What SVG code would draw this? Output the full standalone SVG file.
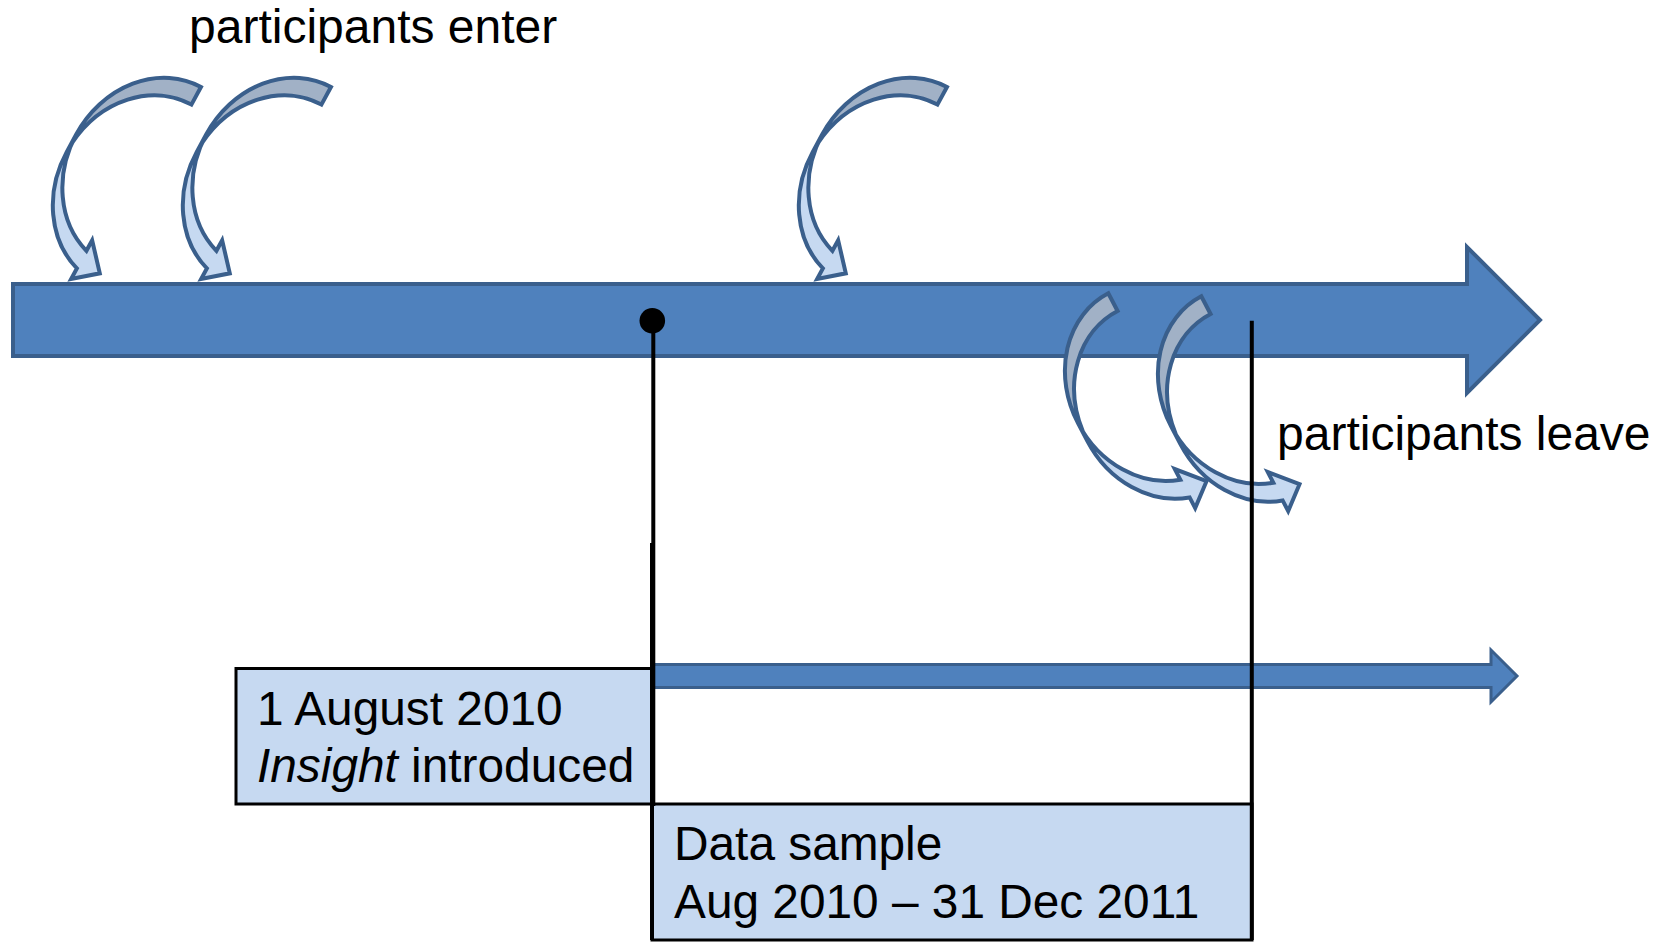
<svg xmlns="http://www.w3.org/2000/svg" width="1672" height="942" viewBox="0 0 1672 942">
<style>
.lbl{font-family:"Liberation Sans",Arial,sans-serif;font-size:48px;fill:#000}
.btx{font-family:"Liberation Sans",Arial,sans-serif;font-size:47.8px;fill:#000}
.box{fill:#C6D9F1;stroke:#000;stroke-width:3}
.bar{fill:#4F81BD;stroke:#3A5F8C;stroke-width:4;stroke-linejoin:miter}
.bar2{fill:#4F81BD;stroke:#3A5F8C;stroke-width:3;stroke-linejoin:miter}
.cl{fill:#C6D9F1;stroke:none}
.cd{fill:#A1B1C6;stroke:none}
.co{fill:none;stroke:#3A5F8C;stroke-width:4;stroke-linejoin:miter}
.ln{stroke:#000;stroke-width:4;fill:none}
</style>
<defs>
<g id="curved">
<path class="cl" d="M0,101 A87,101 0 0 0 64.5,198.6 L64.5,186.6 L87,212 L64.5,230.6 L64.5,218.6 A87,101 0 0 1 0,121 Z"/>
<path class="cd" d="M87,20 A87,101 0 0 0 0.43,111 A87,101 0 0 1 87,0 Z"/>
<path class="co" d="M0,101 A87,101 0 0 0 64.5,198.6 L64.5,186.6 L87,212 L64.5,230.6 L64.5,218.6 A87,101 0 0 1 0,121 L0,101 A87,101 0 0 1 87,0 L87,20 A87,101 0 0 0 0.43,111"/>
</g>
</defs>
<g id="timeline">
<path class="bar" d="M13,284 H1467 V247 L1540,320 L1467,393 V356 H13 Z"/>
</g>
<g id="enter-arrow-1"><use href="#curved" transform="translate(124.5,45.5) rotate(28.5)"/></g>
<g id="enter-arrow-2"><use href="#curved" transform="translate(254.5,45.5) rotate(28.5)"/></g>
<g id="enter-arrow-3"><use href="#curved" transform="translate(870.5,45.5) rotate(28.5)"/></g>
<g id="leave-arrow-1"><use href="#curved" transform="translate(1031.2,333.6) rotate(-27.6)"/></g>
<g id="leave-arrow-2"><use href="#curved" transform="translate(1124.2,336.6) rotate(-27.6)"/></g>
<g id="sample-arrow">
<path class="bar2" d="M652,664.5 H1491 V650 L1517,676 L1491,702 V687.5 H652 Z"/>
</g>
<g id="box-insight">
<rect class="box" x="236" y="668.5" width="416" height="135.5"/>
<text class="btx" x="257" y="725">1 August 2010</text>
<text class="btx" x="257" y="781.7"><tspan font-style="italic">Insight</tspan> introduced</text>
</g>
<g id="box-sample">
<rect class="box" x="652" y="804" width="600" height="136"/>
<text class="btx" x="674" y="860">Data sample</text>
<text class="btx" x="674" y="918">Aug 2010 – 31 Dec 2011</text>
</g>
<g id="connectors">
<line class="ln" x1="653.3" y1="320.7" x2="653.3" y2="806"/>
<line class="ln" x1="652" y1="543" x2="652" y2="940"/>
<line class="ln" x1="1251.8" y1="320.7" x2="1251.8" y2="940"/>
</g>
<g id="start-dot">
<circle cx="652.3" cy="320.7" r="12.8" fill="#000"/>
</g>
<g id="label-enter">
<text class="lbl" x="189" y="43.3">participants enter</text>
</g>
<g id="label-leave">
<text class="lbl" x="1277" y="450">participants leave</text>
</g>
</svg>
